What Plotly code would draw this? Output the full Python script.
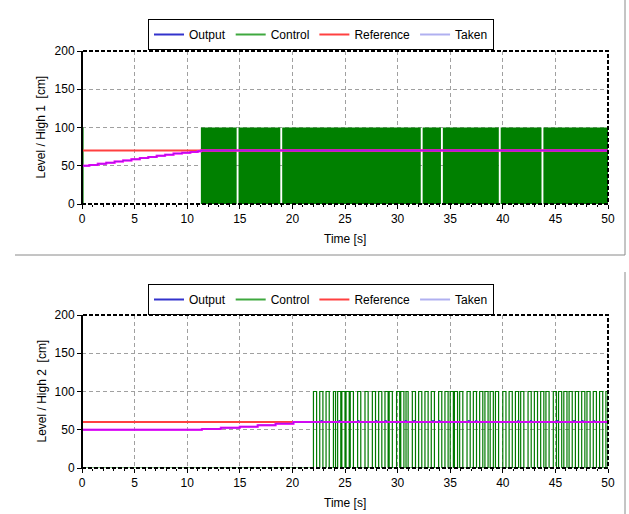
import plotly.graph_objects as go

# ---------------- data ----------------
x_tick_vals = [0, 5, 10, 15, 20, 25, 30, 35, 40, 45, 50]
y_tick_vals = [0, 50, 100, 150, 200]
series_names = ["Output", "Control", "Reference", "Taken"]

# Top panel (tank 1)
top_output_t = [0, 0.7, 1.5, 2.3, 3.1, 3.9, 4.7, 5.5, 6.3, 7.1, 7.9, 8.7, 9.5, 10.3, 11.0, 11.3, 50]
top_output_v = [50, 51, 52.5, 54, 55.5, 57, 58.5, 60, 61.5, 63, 64.5, 66, 67, 68, 69, 70, 70]
top_taken_t = top_output_t
top_taken_v = top_output_v
top_ref_t = [0, 50]
top_ref_v = [70, 70]
# intervals where control = 100 (otherwise 0)
top_control_on = [(0.0, 0.15), (11.3, 14.7), (14.88, 18.85), (19.03, 32.2), (32.38, 34.12),
                  (34.3, 39.62), (39.8, 43.68), (43.86, 50.0)]

# Bottom panel (tank 2)
bot_output_t = [0, 11.4, 13.2, 15.0, 16.7, 18.4, 20.1]
bot_output_v = [50, 51, 52.5, 54, 56, 58, 60]
bot_output_peak_t = [22.7, 24.4, 26.2, 27.9, 28.8, 30.7, 31.5, 33.3, 33.9, 36.7, 37.4,
                     41.4, 42.6, 45.1, 46.7, 47.5, 48.6]
bot_output_peak_v = 62
bot_final_v = 60
bot_taken_t = [0, 11.4, 13.2, 15.0, 16.7, 18.4, 20.1, 50]
bot_taken_v = [50, 51, 52.5, 54, 56, 58, 60, 60]
bot_ref_t = [0, 50]
bot_ref_v = [60, 60]
bot_control_on = [(22.0, 22.3), (22.6, 22.9), (23.2, 23.5), (23.9, 24.1), (24.3, 24.6), (24.7, 25.0),
                  (25.1, 25.4), (25.5, 25.8), (26.2, 26.5), (26.9, 27.2), (27.6, 27.9), (28.2, 28.5),
                  (28.8, 29.1), (29.2, 29.5), (29.9, 30.2), (30.3, 30.6), (30.8, 31.0), (31.4, 31.7),
                  (32.0, 32.3), (32.6, 32.9), (33.2, 33.5), (33.9, 34.2), (34.5, 34.8), (35.0, 35.3),
                  (35.4, 35.7), (35.9, 36.2), (36.6, 36.9), (37.2, 37.5), (37.8, 38.1), (38.3, 38.6),
                  (38.8, 39.1), (39.3, 39.6), (40.0, 40.3), (40.6, 40.9), (41.2, 41.5), (41.7, 42.0),
                  (42.4, 42.7), (43.0, 43.3), (43.6, 43.9), (44.1, 44.4), (44.8, 45.1), (45.3, 45.6),
                  (45.8, 46.1), (46.3, 46.6), (46.9, 47.2), (47.5, 47.8), (48.0, 48.3), (48.6, 48.9),
                  (49.2, 49.5), (49.8, 50.0)]

# ---------------- helpers ----------------
def square_wave(on_list, t_end=50.0):
    xs, ys = [0.0], [0.0]
    for s, e in on_list:
        xs += [s, s, e, e]
        ys += [0, 100, 100, 0]
    xs.append(t_end)
    ys.append(0)
    return xs, ys

C_OUT = "#3333cc"
C_CTRL_LEG = "#3fa83f"
C_CTRL = "#008000"
C_REF = "#ff4040"
C_TAKEN_LEG = "#b0b0f0"
C_TAKEN = "#ff00ff"
FONT = "Liberation Sans, Arial, sans-serif"

fig = go.Figure()

def add_panel(row, out_t, out_v, taken_t, taken_v, ref_t, ref_v, ctrl_on, filled, legend_id):
    xa = "x" if row == 1 else "x2"
    ya = "y" if row == 1 else "y2"
    cx, cy = square_wave(ctrl_on)
    if filled:
        fig.add_trace(go.Scatter(x=cx, y=cy, mode="lines", name="Control",
                                 line=dict(color=C_CTRL, width=0), fill="tozeroy",
                                 fillcolor=C_CTRL, showlegend=False, xaxis=xa, yaxis=ya,
                                 legend=legend_id))
    else:
        fig.add_trace(go.Scatter(x=cx, y=cy, mode="lines", name="Control",
                                 line=dict(color="#007a00", width=1.2), showlegend=False,
                                 xaxis=xa, yaxis=ya, legend=legend_id))
    fig.add_trace(go.Scatter(x=ref_t, y=ref_v, mode="lines", name="Reference",
                             line=dict(color=C_REF, width=2), showlegend=False,
                             xaxis=xa, yaxis=ya, legend=legend_id))
    fig.add_trace(go.Scatter(x=taken_t, y=taken_v, mode="lines", name="Taken",
                             line=dict(color=C_TAKEN, width=2, shape="hv"), showlegend=False,
                             xaxis=xa, yaxis=ya, legend=legend_id))
    fig.add_trace(go.Scatter(x=out_t, y=out_v, mode="lines", name="Output",
                             line=dict(color=C_OUT, width=1, shape="hv"), showlegend=False,
                             xaxis=xa, yaxis=ya, legend=legend_id))
    fig.add_trace(go.Scatter(x=taken_t, y=taken_v, mode="lines", name="Taken",
                             line=dict(color=C_TAKEN, width=2, shape="hv"), showlegend=False,
                             xaxis=xa, yaxis=ya, legend=legend_id, opacity=0.55))
    # legend entries
    for nm, col, rk in zip(series_names, [C_OUT, C_CTRL_LEG, C_REF, C_TAKEN_LEG], [1, 2, 3, 4]):
        fig.add_trace(go.Scatter(x=[None], y=[None], mode="lines", name=nm,
                                 line=dict(color=col, width=2), legendrank=rk,
                                 xaxis=xa, yaxis=ya, legend=legend_id))

# top
add_panel(1, top_output_t, top_output_v, top_taken_t, top_taken_v,
          top_ref_t, top_ref_v, top_control_on, True, "legend")

# bottom output with small peaks
b_t = list(bot_output_t)
b_v = list(bot_output_v)
for p in bot_output_peak_t:
    b_t += [p, p + 0.15]
    b_v += [bot_output_peak_v, bot_final_v]
b_t.append(50)
b_v.append(bot_final_v)
add_panel(2, b_t, b_v, bot_taken_t, bot_taken_v,
          bot_ref_t, bot_ref_v, bot_control_on, False, "legend2")

# ---------------- layout ----------------
W, H = 629, 514
ML, MR, MT, MB = 82, 21, 51, 46
PW = W - ML - MR
PH = H - MT - MB

def px2x(px):
    return (px - ML) / PW

def py2y(py):
    return (H - MB - py) / PH

axis_common = dict(range=[0, 50], tickvals=x_tick_vals, ticks="outside", ticklen=4,
                   tickcolor="black", showgrid=True, gridcolor="#a0a0a0", griddash="4px,3px",
                   gridwidth=1, zeroline=False, showline=False,
                   tickfont=dict(family=FONT, size=12, color="black"),
                   minor=dict(dtick=1, ticks="outside", ticklen=2, tickcolor="black", showgrid=False))
yaxis_common = dict(range=[0, 200], tickvals=y_tick_vals, ticks="outside", ticklen=4,
                    tickcolor="black", showgrid=True, gridcolor="#a0a0a0", griddash="4px,3px",
                    gridwidth=1, zeroline=False, showline=False,
                    tickfont=dict(family=FONT, size=12, color="black"))

top_dom = [py2y(204), 1.0]
bot_dom = [0.0, py2y(315)]

fig.update_layout(
    width=W, height=H, autosize=False,
    margin=dict(l=ML, r=MR, t=MT, b=MB),
    paper_bgcolor="white", plot_bgcolor="white",
    font=dict(family=FONT, size=12, color="black"),
    xaxis=dict(domain=[0, 1], anchor="y", **axis_common),
    yaxis=dict(domain=top_dom, anchor="x", **yaxis_common),
    xaxis2=dict(domain=[0, 1], anchor="y2", **axis_common),
    yaxis2=dict(domain=bot_dom, anchor="x2", **yaxis_common),
    legend=dict(orientation="h", x=px2x(148), xanchor="left", y=py2y(19), yanchor="top",
                bordercolor="black", borderwidth=1, bgcolor="white", itemwidth=30,
                font=dict(family=FONT, size=12, color="black"), itemclick=False),
    legend2=dict(orientation="h", x=px2x(148), xanchor="left", y=py2y(284), yanchor="top",
                 bordercolor="black", borderwidth=1, bgcolor="white", itemwidth=30,
                 font=dict(family=FONT, size=12, color="black"), itemclick=False),
    showlegend=True,
)

shapes = []
for xa, ya in [("x", "y"), ("x2", "y2")]:
    shapes.append(dict(type="rect", xref=f"{xa} domain", yref=f"{ya} domain", x0=0, x1=1, y0=0, y1=1,
                       line=dict(color="black", width=2, dash="4px,2px"), layer="above"))
    shapes.append(dict(type="line", xref=f"{xa} domain", yref=f"{ya} domain", x0=0, x1=0, y0=0, y1=1,
                       line=dict(color="black", width=2), layer="above"))
# panel frames
frame_col = "#8a8a8a"
shapes.append(dict(type="line", xref="paper", yref="paper", x0=px2x(15), x1=px2x(625),
                   y0=py2y(255), y1=py2y(255), line=dict(color=frame_col, width=1)))
shapes.append(dict(type="line", xref="paper", yref="paper", x0=px2x(625), x1=px2x(625),
                   y0=py2y(0), y1=py2y(255), line=dict(color=frame_col, width=1)))
shapes.append(dict(type="line", xref="paper", yref="paper", x0=px2x(625), x1=px2x(625),
                   y0=py2y(272), y1=py2y(514), line=dict(color=frame_col, width=1)))
fig.update_layout(shapes=shapes)

annots = [
    dict(text="Time [s]", xref="paper", yref="paper", x=0.5, y=py2y(239), showarrow=False,
         xanchor="center", yanchor="middle", font=dict(family=FONT, size=12, color="black")),
    dict(text="Time [s]", xref="paper", yref="paper", x=0.5, y=py2y(503), showarrow=False,
         xanchor="center", yanchor="middle", font=dict(family=FONT, size=12, color="black")),
    dict(text="Level / High 1  [cm]", xref="paper", yref="paper", x=px2x(41), y=py2y(127.5),
         textangle=-90, showarrow=False, xanchor="center", yanchor="middle",
         font=dict(family=FONT, size=12, color="black")),
    dict(text="Level / High 2  [cm]", xref="paper", yref="paper", x=px2x(41), y=py2y(391.5),
         textangle=-90, showarrow=False, xanchor="center", yanchor="middle",
         font=dict(family=FONT, size=12, color="black")),
]
fig.update_layout(annotations=annots)

fig.write_html("out.html", config={"displayModeBar": False},
               post_script="document.body.style.margin='0';document.body.style.overflow='hidden';")
